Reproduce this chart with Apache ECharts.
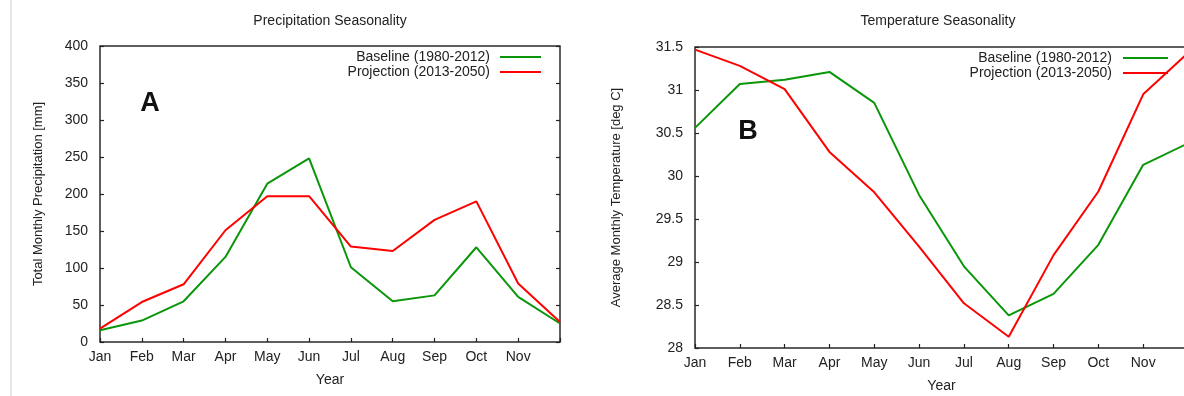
<!DOCTYPE html>
<html>
<head>
<meta charset="utf-8">
<script src="https://cdn.jsdelivr.net/npm/echarts@6/dist/echarts.min.js"></script>
<style>
  html, body { margin: 0; padding: 0; background: #ffffff; }
  #chart { width: 1184px; height: 396px; }
</style>
</head>
<body>
<div id="chart"></div>
<script>
// Month categories and the tick labels drawn under them (December is left unlabelled)
const months = ['Jan', 'Feb', 'Mar', 'Apr', 'May', 'Jun', 'Jul', 'Aug', 'Sep', 'Oct', 'Nov', 'Dec'];
const monthTickLabels = ['Jan', 'Feb', 'Mar', 'Apr', 'May', 'Jun', 'Jul', 'Aug', 'Sep', 'Oct', 'Nov', ''];

// Series names
const baselineName = 'Baseline (1980-2012)';
const projectionName = 'Projection (2013-2050)';

// Total monthly precipitation [mm]
const precipBaseline = [16, 29, 55, 115, 214, 248, 101, 55, 63, 128, 61, 25];
const precipProjection = [18, 54, 78, 151, 197, 197, 129, 123, 165, 190, 79, 27];

// Average monthly temperature [deg C]
const tempBaseline = [30.56, 31.07, 31.12, 31.21, 30.85, 29.78, 28.95, 28.38, 28.63, 29.20, 30.13, 30.38];
const tempProjection = [31.47, 31.28, 31.01, 30.28, 29.81, 29.18, 28.52, 28.13, 29.08, 29.82, 30.95, 31.43];

const FONT = 'Liberation Sans, Arial, sans-serif';
const INK = '#222222';
const GREEN = '#0a960a';
const RED = '#ff0000';

const chart = echarts.init(document.getElementById('chart'), null, { renderer: 'canvas' });

function xAxisFor(gridIndex) {
  return {
    type: 'category',
    gridIndex: gridIndex,
    data: months,
    boundaryGap: false,
    name: 'Year',
    nameLocation: 'middle',
    nameGap: 31,
    nameTextStyle: { fontFamily: FONT, fontSize: 14, color: INK },
    axisLine: { show: false },
    axisTick: { show: true, inside: true, length: 4, interval: 0, lineStyle: { color: INK, width: 1.2 } },
    axisLabel: {
      interval: 0, margin: 8, fontFamily: FONT, fontSize: 14, color: INK,
      formatter: (v, i) => monthTickLabels[i]
    },
    splitLine: { show: false }
  };
}

function yAxisFor(gridIndex, min, max, interval, name, nameGap) {
  return {
    type: 'value',
    gridIndex: gridIndex,
    min: min, max: max, interval: interval,
    name: name,
    nameLocation: 'middle',
    nameRotate: 90,
    nameGap: nameGap,
    nameTextStyle: { fontFamily: FONT, fontSize: 13, color: INK },
    axisLine: { show: false },
    axisTick: { show: true, inside: true, length: 4, lineStyle: { color: INK, width: 1.2 } },
    axisLabel: { margin: 12, fontFamily: FONT, fontSize: 14, color: INK },
    splitLine: { show: false }
  };
}

// Mirror ticks along the right border
function mirrorYAxis(gridIndex, min, max, interval) {
  return {
    type: 'value',
    gridIndex: gridIndex,
    position: 'right',
    min: min, max: max, interval: interval,
    axisLine: { show: false },
    axisTick: { show: true, inside: true, length: 4, lineStyle: { color: INK, width: 1.2 } },
    axisLabel: { show: false },
    splitLine: { show: false }
  };
}

function legendFor(right, top, itemWidth, textGap) {
  return {
    data: [baselineName, projectionName],
    orient: 'vertical',
    align: 'right',
    right: right,
    top: top,
    padding: 0,
    itemWidth: itemWidth,
    itemHeight: 2,
    itemGap: 1,
    icon: 'rect',
    selectedMode: false,
    textStyle: { fontFamily: FONT, fontSize: 14, color: INK, lineHeight: 14, padding: [0, textGap, 0, 0] }
  };
}

function lineSeries(name, color, data, axisIndex) {
  return {
    name: name,
    type: 'line',
    xAxisIndex: axisIndex,
    yAxisIndex: axisIndex === 0 ? 0 : 2,
    data: data,
    symbol: 'none',
    lineStyle: { color: color, width: 2 },
    itemStyle: { color: color },
    animation: false
  };
}

const gridFrame = { show: true, borderColor: '#2a2a2a', borderWidth: 1.5, backgroundColor: 'transparent', containLabel: false, outerBoundsMode: 'none' };

const option = {
  backgroundColor: '#ffffff',
  animation: false,
  title: [
    { text: 'Precipitation Seasonality', left: 330, top: 14, textAlign: 'center', padding: 0,
      textStyle: { fontFamily: FONT, fontSize: 14, fontWeight: 'normal', color: INK } },
    { text: 'Temperature Seasonality', left: 938, top: 14, textAlign: 'center', padding: 0,
      textStyle: { fontFamily: FONT, fontSize: 14, fontWeight: 'normal', color: INK } }
  ],
  grid: [
    Object.assign({ left: 100, right: 624, top: 46, bottom: 54 }, gridFrame),
    Object.assign({ left: 695, right: -4, top: 47, bottom: 48 }, gridFrame)
  ],
  xAxis: [xAxisFor(0), xAxisFor(1)],
  yAxis: [
    yAxisFor(0, 0, 400, 50, 'Total Monthly Precipitation [mm]', 55),
    mirrorYAxis(0, 0, 400, 50),
    yAxisFor(1, 28, 31.5, 0.5, 'Average Monthly Temperature [deg C]', 72),
    mirrorYAxis(1, 28, 31.5, 0.5)
  ],
  legend: [
    legendFor(643, 50, 41, 5),
    legendFor(16, 51, 45, 6)
  ],
  series: [
    lineSeries(baselineName, GREEN, precipBaseline, 0),
    lineSeries(projectionName, RED, precipProjection, 0),
    lineSeries(baselineName, GREEN, tempBaseline, 1),
    lineSeries(projectionName, RED, tempProjection, 1)
  ],
  graphic: [
    { type: 'rect', left: 10, top: 0, shape: { width: 2, height: 396 }, style: { fill: '#e8e8e8' }, silent: true },
    { type: 'text', x: 150, y: 104, style: { text: 'A', font: 'bold 27px ' + FONT, fill: '#111', align: 'center', verticalAlign: 'middle' } },
    { type: 'text', x: 748, y: 132, style: { text: 'B', font: 'bold 27px ' + FONT, fill: '#111', align: 'center', verticalAlign: 'middle' } }
  ]
};

chart.setOption(option);
</script>
</body>
</html>
